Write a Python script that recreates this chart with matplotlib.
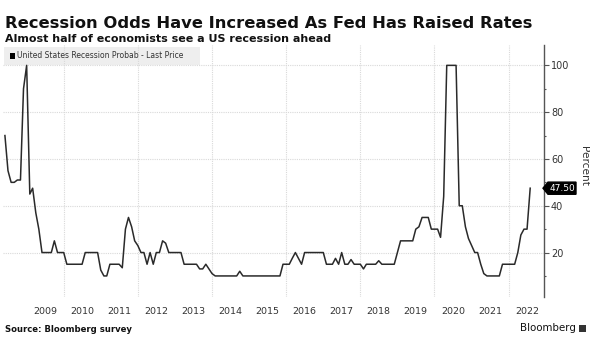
import matplotlib
matplotlib.use("Agg")
import matplotlib.pyplot as plt
import matplotlib.dates as mdates
import pandas as pd
from matplotlib.patches import Rectangle, Polygon
from matplotlib.ticker import MultipleLocator, FixedLocator
from matplotlib.transforms import blended_transform_factory

# monthly survey readings, June 2008 .. August 2022
START = "2008-06-01"
VALUES_2008 = [70, 55, 50, 50, 51, 51, 90]
VALUES_2009 = [100, 45, 47.5, 37, 30, 20, 20, 20, 20, 25, 20, 20]
VALUES_2010 = [20, 15, 15, 15, 15, 15, 15, 20, 20, 20, 20, 20]
VALUES_2011 = [12.5, 10, 10, 15, 15, 15, 15, 13.5, 30, 35, 31, 25]
VALUES_2012 = [23, 20, 20, 15, 20, 15, 20, 20, 25, 24, 20, 20]
VALUES_2013 = [20, 20, 20, 15, 15, 15, 15, 15, 13, 13, 15, 13]
VALUES_2014 = [11, 10, 10, 10, 10, 10, 10, 10, 10, 12, 10, 10]
VALUES_2015 = [10, 10, 10, 10, 10, 10, 10, 10, 10, 10, 10, 15]
VALUES_2016 = [15, 15, 17.5, 20, 17.5, 15, 20, 20, 20, 20, 20, 20]
VALUES_2017 = [20, 15, 15, 15, 17.5, 15, 20, 15, 15, 17, 15, 15]
VALUES_2018 = [15, 13, 15, 15, 15, 15, 16.5, 15, 15, 15, 15, 15]
VALUES_2019 = [20, 25, 25, 25, 25, 25, 30, 31, 35, 35, 35, 30]
VALUES_2020 = [30, 30, 26.5, 44, 100, 100, 100, 100, 40, 40, 31, 26]
VALUES_2021 = [23, 20, 20, 15, 11, 10, 10, 10, 10, 10, 15, 15]
VALUES_2022 = [15, 15, 15, 20, 27.5, 30, 30, 47.5]

YEAR_LABELS = list(range(2009, 2023))
Y_TICKS = [20, 40, 60, 80, 100]

values = (VALUES_2008 + VALUES_2009 + VALUES_2010 + VALUES_2011 + VALUES_2012
          + VALUES_2013 + VALUES_2014 + VALUES_2015 + VALUES_2016 + VALUES_2017
          + VALUES_2018 + VALUES_2019 + VALUES_2020 + VALUES_2021 + VALUES_2022)
dates = pd.date_range(START, periods=len(values), freq="MS")

W, H = 590, 337


def fx(px):
    return px / W


def fy(px):
    return 1 - px / H


fig = plt.figure(figsize=(W / 100, H / 100), dpi=100)
fig.patch.set_facecolor("white")
ax = fig.add_axes([fx(3), fy(297), fx(544) - fx(3), fy(45) - fy(297)])

ax.plot(dates, values, color="#2a2a2a", linewidth=1.1, zorder=3)

ax.set_xlim(pd.Timestamp("2008-05-13"), pd.Timestamp("2022-12-15"))
ax.set_ylim(1, 108.7)

for side in ("left", "top", "bottom"):
    ax.spines[side].set_visible(False)
ax.spines["right"].set_color("#555555")
ax.spines["right"].set_linewidth(1.0)

# x axis: gridlines every two years, labels at mid-year
ax.xaxis.set_major_locator(mdates.YearLocator(base=2, month=1, day=1))
ax.xaxis.set_major_formatter(plt.NullFormatter())
ax.xaxis.set_minor_locator(FixedLocator(
    [mdates.date2num(pd.Timestamp(f"{y}-07-01")) for y in YEAR_LABELS]))
ax.xaxis.set_minor_formatter(mdates.DateFormatter("%Y"))
ax.tick_params(axis="x", which="both", length=0, pad=7,
               labelsize=6.8, labelcolor="#333333")

# y axis on the right
ax.yaxis.tick_right()
ax.yaxis.set_major_locator(FixedLocator(Y_TICKS))
ax.yaxis.set_minor_locator(MultipleLocator(10))
ax.tick_params(axis="y", which="major", direction="out", length=3.5,
               width=0.8, color="#555555", labelsize=7, labelcolor="#333333", pad=1.5)
ax.tick_params(axis="y", which="minor", direction="out", length=1.5,
               width=0.8, color="#555555")

ax.set_axisbelow(True)
ax.grid(True, which="major", axis="both", color="#d9d9d9",
        linestyle=(0, (1, 1)), linewidth=0.8)

# legend strip
ax.add_patch(Rectangle((fx(4), fy(65)), fx(200) - fx(4), fy(47) - fy(65),
                       transform=fig.transFigure, facecolor="#eeeeee",
                       edgecolor="none", zorder=0.2, clip_on=False))
ax.add_patch(Rectangle((fx(10), fy(58.5)), fx(15) - fx(10), fy(53.5) - fy(58.5),
                       transform=fig.transFigure, facecolor="black",
                       edgecolor="none", zorder=4, clip_on=False))
fig.text(fx(17), fy(56), "United States Recession Probab - Last Price",
         fontsize=5.5, color="#333333", va="center", ha="left")

# last value tag
last = values[-1]
tr = blended_transform_factory(fig.transFigure, ax.transData)
half = 2.6
ax.add_patch(Polygon([(fx(543), last), (fx(548), last + half), (fx(576), last + half),
                      (fx(576), last - half), (fx(548), last - half)],
                     closed=True, transform=tr, facecolor="black",
                     edgecolor="black", clip_on=False, zorder=5))
ax.text(fx(562), last, f"{last:.2f}", transform=tr, color="white",
        fontsize=6.5, ha="center", va="center", zorder=6)

fig.text(fx(584), fy(166), "Percent", rotation=270, fontsize=7.6,
         color="#333333", ha="center", va="center")

fig.text(fx(5), fy(27.5), "Recession Odds Have Increased As Fed Has Raised Rates",
         fontsize=11.8, fontweight="bold", color="#111111", va="baseline")
fig.text(fx(5), fy(42), "Almost half of economists see a US recession ahead",
         fontsize=8, fontweight="bold", color="#111111", va="baseline")
fig.text(fx(5), fy(332), "Source: Bloomberg survey",
         fontsize=6.1, fontweight="bold", color="#111111", va="baseline")
fig.text(fx(576), fy(331), "Bloomberg", fontsize=7.4, color="#111111",
         ha="right", va="baseline")
fig.patches.append(Rectangle((fx(579), fy(332)), fx(7), fx(7) * W / H,
                             transform=fig.transFigure, facecolor="#333333",
                             edgecolor="none"))

fig.savefig("out.png", dpi=100)
